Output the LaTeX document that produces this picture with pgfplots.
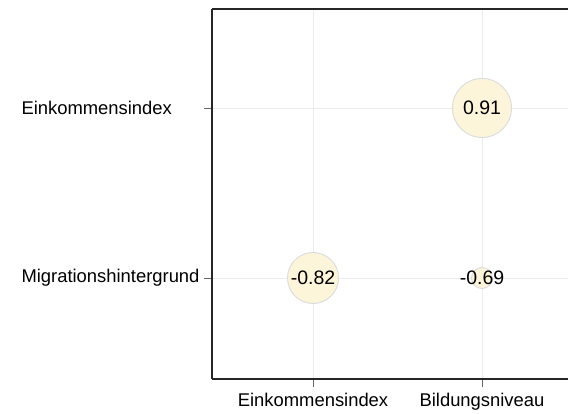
\documentclass[border=0pt]{standalone}
\usepackage{pgfplots}
\pgfplotsset{compat=1.18}
\usepackage{fontspec}
\setmainfont{Liberation Sans}
\definecolor{bubble}{HTML}{FDF5DA}
\definecolor{bubbleedge}{HTML}{DDDDDD}
\definecolor{gridc}{HTML}{EBEBEB}
\begin{document}
\begin{tikzpicture}
\useasboundingbox (-212pt,-34pt) rectangle (356pt,379pt);
\begin{axis}[
  at={(0pt,0pt)}, anchor=south west,
  scale only axis, width=356pt, height=370pt,
  xmin=-0.598, xmax=1.509, ymin=-0.594, ymax=1.582,
  separate axis lines,
  axis x line*=box, axis y line*=left,
  xtick pos=bottom, ytick pos=left,
  xtick={0,1}, xticklabels={Einkommensindex, Bildungsniveau},
  ytick={0,1}, yticklabels={Migrationshintergrund, Einkommensindex},
  tick align=outside, major tick length=8pt,
  tick style={color=black!60, line width=0.8pt},
  axis line style={black!85, line width=1.2pt},
  grid=major, major grid style={gridc, line width=0.8pt},
  ticklabel style={font=\fontsize{18.4}{22}\selectfont, text=black},
  xticklabel style={yshift=-3pt},
  yticklabel style={anchor=west, xshift=-186pt},
  clip=false,
  every node near coord/.append style={anchor=center, font=\fontsize{19.5}{22}\selectfont, text=black},
]
\addplot[only marks, mark=*, mark size=29.5pt,
  mark options={fill=bubble, draw=bubbleedge, line width=1pt},
  nodes near coords, point meta=explicit symbolic]
  coordinates {(1,1) [0.91]};
\addplot[only marks, mark=*, mark size=25.5pt,
  mark options={fill=bubble, draw=bubbleedge, line width=1pt},
  nodes near coords, point meta=explicit symbolic]
  coordinates {(0,0) [-0.82]};
\addplot[only marks, mark=*, mark size=10.5pt,
  mark options={fill=bubble, draw=bubbleedge, line width=1pt},
  nodes near coords, point meta=explicit symbolic]
  coordinates {(1,0) [-0.69]};
\end{axis}
\end{tikzpicture}
\end{document}
